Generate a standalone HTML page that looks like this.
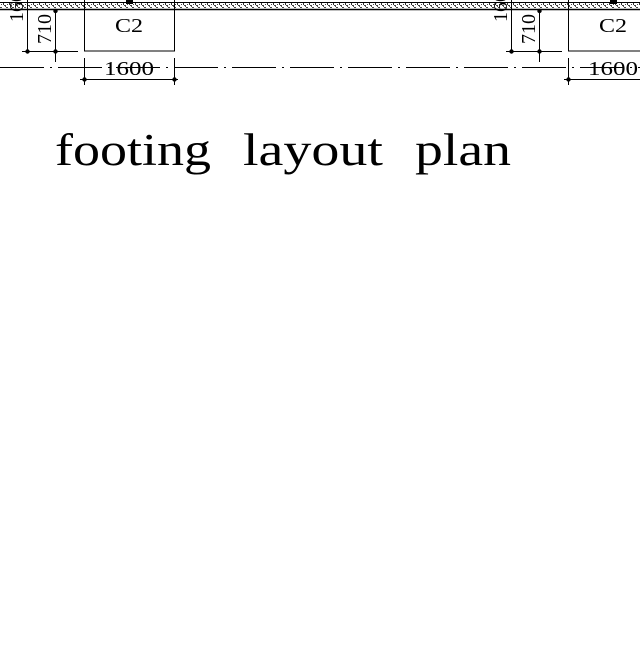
<!DOCTYPE html>
<html><head><style>html,body{margin:0;padding:0;background:#fff;}</style></head>
<body>
<svg width="640" height="640" viewBox="0 0 640 640" xmlns="http://www.w3.org/2000/svg">
<defs>
<pattern id="st" width="6" height="6" patternUnits="userSpaceOnUse">
<rect width="6" height="6" fill="#fff"/>
<rect x="0" y="1" width="2" height="1" fill="#444"/>
<rect x="3" y="3" width="1" height="2" fill="#333"/>
<rect x="5" y="0" width="1" height="1" fill="#555"/>
<rect x="1" y="4" width="1" height="1" fill="#444"/>
<rect x="4" y="5" width="2" height="1" fill="#444"/>
</pattern>
</defs>
<rect x="0" y="2" width="640" height="8" fill="url(#st)"/>
<line x1="0" y1="2.5" x2="640" y2="2.5" stroke="#000" stroke-width="1"/>
<line x1="0" y1="9.5" x2="640" y2="9.5" stroke="#000" stroke-width="1.5"/>
<line x1="0" y1="67.5" x2="640" y2="67.5" stroke="#000" stroke-width="1" stroke-dasharray="44,6,2,6"/>
<g stroke="#000" stroke-width="1" fill="none">
<g id="u">
<rect x="84.5" y="-1" width="90" height="52"/>
<line x1="27.5" y1="0" x2="27.5" y2="52"/>
<line x1="55.5" y1="10" x2="55.5" y2="62"/>
<line x1="22" y1="51.5" x2="78" y2="51.5"/>
<line x1="84.5" y1="58" x2="84.5" y2="85"/>
<line x1="174.5" y1="58" x2="174.5" y2="85"/>
<line x1="80" y1="79.5" x2="178" y2="79.5"/>
</g>
<use href="#u" x="484"/>
</g>
<g fill="#000">
<rect x="126" y="0" width="7" height="4"/><rect x="610" y="0" width="7" height="4"/>
<circle cx="27.5" cy="51.5" r="2.2"/><circle cx="55.5" cy="51.5" r="2.2"/><circle cx="55.5" cy="11" r="2.2"/>
<circle cx="84.5" cy="79.5" r="2.2"/><circle cx="174.5" cy="79.5" r="2.2"/>
<circle cx="511.5" cy="51.5" r="2.2"/><circle cx="539.5" cy="51.5" r="2.2"/><circle cx="539.5" cy="11" r="2.2"/>
<circle cx="568.5" cy="79.5" r="2.2"/>
</g>
<g font-family="Liberation Serif, serif" fill="#000">
<text x="129" y="32" font-size="20" text-anchor="middle" textLength="28" lengthAdjust="spacingAndGlyphs">C2</text>
<text x="613" y="32" font-size="20" text-anchor="middle" textLength="28" lengthAdjust="spacingAndGlyphs">C2</text>
<text x="129" y="75" font-size="20" text-anchor="middle" textLength="50" lengthAdjust="spacingAndGlyphs">1600</text>
<text x="613" y="75" font-size="20" text-anchor="middle" textLength="50" lengthAdjust="spacingAndGlyphs">1600</text>
<text transform="translate(51,29) rotate(-90)" font-size="20" text-anchor="middle">710</text>
<text transform="translate(535,29) rotate(-90)" font-size="20" text-anchor="middle">710</text>
<text transform="translate(23,22) rotate(-90)" font-size="20" text-anchor="start">160</text>
<text transform="translate(507,22) rotate(-90)" font-size="20" text-anchor="start">160</text>
<text x="55" y="165" font-size="45" textLength="156" lengthAdjust="spacingAndGlyphs">footing</text>
<text x="243" y="165" font-size="45" textLength="140" lengthAdjust="spacingAndGlyphs">layout</text>
<text x="415" y="165" font-size="45" textLength="96" lengthAdjust="spacingAndGlyphs">plan</text>
</g>
</svg>
</body></html>
